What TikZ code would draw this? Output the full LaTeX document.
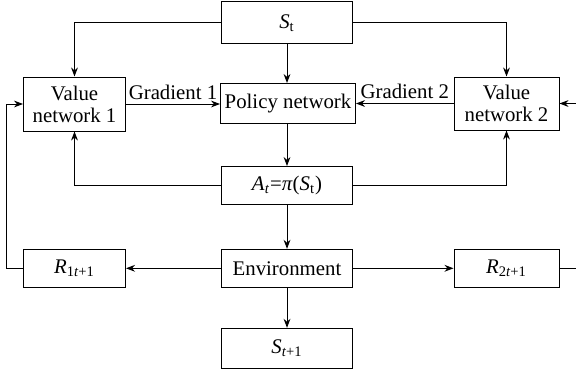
\documentclass[tikz,border=0pt]{standalone}
\usepackage{fontspec}
\setmainfont{Liberation Serif}
\usetikzlibrary{arrows.meta}
\newcommand{\vS}{\textit{S}}
\newcommand{\vsub}[1]{\textsubscript{#1}}

\begin{document}
\begin{tikzpicture}[x=0.5pt,y=-0.5pt,line width=0.5pt,
  font=\fontsize{10.4}{11}\selectfont]
\tikzstyle{box}=[draw,inner sep=0pt,align=center]
\tikzstyle{arr}=[-{Stealth[length=4.5pt,width=3.4pt]}]
\clip (0,0) rectangle (576,369);
% boxes
\node[box,minimum width=65.5pt,minimum height=21pt] (st) at (287,23) {\vS\vsub{t}};
\node[box,minimum width=67.5pt,minimum height=20pt] (policy) at (288,103.5) {Policy network};
\node[box,minimum width=51pt,minimum height=27pt] (vn1) at (74.5,104) {Value\\network 1};
\node[box,minimum width=52.5pt,minimum height=26.5pt] (vn2) at (506.5,103.5) {Value\\network 2};
\node[box,minimum width=65.5pt,minimum height=19pt] (act) at (287,185.5) {\textit{A}\vsub{\textit{t}}=\textit{π}(\vS\vsub{t})};
\node[box,minimum width=65.5pt,minimum height=19pt] (env) at (287,268.3) {Environment};
\node[box,minimum width=51pt,minimum height=19pt] (r1) at (74.5,268.3) {\textit{R}\vsub{1\textit{t}+1}};
\node[box,minimum width=52.5pt,minimum height=19pt] (r2) at (506.5,268.3) {\textit{R}\vsub{2\textit{t}+1}};
\node[box,minimum width=65.5pt,minimum height=20pt] (snext) at (287,348.3) {\vS\vsub{\textit{t}+1}};
\coordinate (fbl) at (6,0);
\coordinate (fbr) at (582,0);
% connectors
\draw[arr] (st.west) -| (vn1.north);
\draw[arr] (st.east) -| (vn2.north);
\draw[arr] (st) -- (st|-policy.north);
\draw[arr] (vn1.east) -- node[above,inner sep=2pt] {Gradient 1} (vn1.east-|policy.west);
\draw[arr] (vn2.west) -- node[above,inner sep=2pt] {Gradient 2} (vn2.west-|policy.east);
\draw[arr] (st|-policy.south) -- (act);
\draw[arr] (act.west) -| (vn1.south);
\draw[arr] (act.east) -| (vn2.south);
\draw[arr] (act) -- (env);
\draw[arr] (env) -- (r1);
\draw[arr] (env) -- (r2);
\draw[arr] (env) -- (snext);
\draw[arr] (r1.west) -- (r1.west-|fbl) |- (vn1.west);
\draw[arr] (r2.east) -- (r2.east-|fbr) |- (vn2.east);
\end{tikzpicture}
\end{document}
